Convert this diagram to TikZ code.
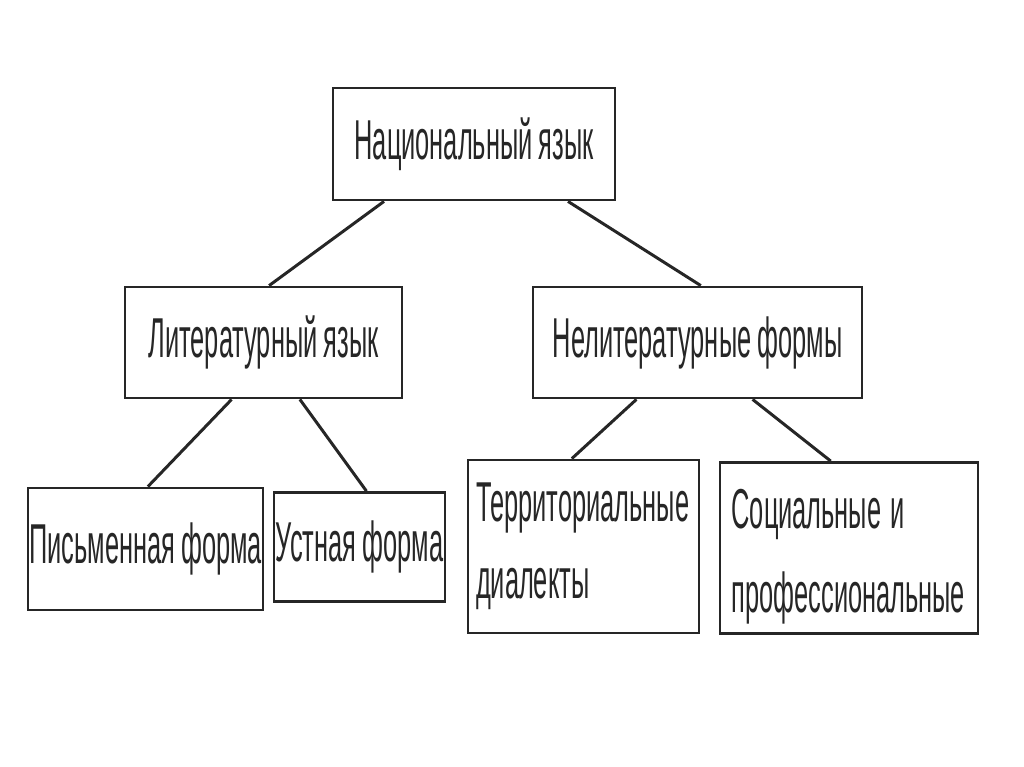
\documentclass[tikz,border=0pt]{standalone}
\usepackage{fontspec}
\setmainfont[FakeStretch=0.452,WordSpace=0.85]{Liberation Sans}
\usetikzlibrary{calc}
\begin{document}
\begin{tikzpicture}[x=0.02cm,y=-0.02cm,
  box/.style={draw=black!85,line width=1.6pt,rectangle,inner sep=0pt,
    font=\fontsize{32}{44}\selectfont,text=black!85},
  link/.style={draw=black!85,line width=1.7pt}]
\useasboundingbox (0,0) rectangle (1024,767);
\node[box,minimum width=5.64cm,minimum height=2.24cm] (nat) at (474,144) {Национальный язык};
\node[box,minimum width=5.54cm,minimum height=2.22cm] (lit) at (263.5,342.5) {Литературный язык};
\node[box,minimum width=6.58cm,minimum height=2.22cm] (non) at (697.5,342.5) {Нелитературные формы};
\node[box,minimum width=4.70cm,minimum height=2.44cm] (pis) at (145.5,549) {Письменная форма};
\node[box,minimum width=3.42cm,minimum height=2.18cm] (ust) at (359.5,547) {Устная форма};
\node[box,minimum width=4.58cm,minimum height=3.46cm,align=left,text width=4.3cm,inner xsep=0.16cm] (ter) at (583.5,546.5) {Территориальные\\диалекты};
\node[box,minimum width=5.16cm,minimum height=3.42cm,align=left,text width=4.7cm,inner xsep=0.2cm,font=\fontsize{32}{48}\selectfont] (soc) at (849,548) {\rule{0pt}{32pt}Социальные\kern5pt и\\профессиональные};
\draw[link] ($(nat.south west)!0.184!(nat.south east)$) -- ($(lit.north west)!0.52!(lit.north east)$);
\draw[link] ($(nat.south west)!0.83!(nat.south east)$) -- ($(non.north west)!0.51!(non.north east)$);
\draw[link] ($(lit.south west)!0.386!(lit.south east)$) -- ($(pis.north west)!0.51!(pis.north east)$);
\draw[link] ($(lit.south west)!0.63!(lit.south east)$) -- ($(ust.north west)!0.54!(ust.north east)$);
\draw[link] ($(non.south west)!0.316!(non.south east)$) -- ($(ter.north west)!0.45!(ter.north east)$);
\draw[link] ($(non.south west)!0.666!(non.south east)$) -- ($(soc.north west)!0.43!(soc.north east)$);
\end{tikzpicture}
\end{document}
